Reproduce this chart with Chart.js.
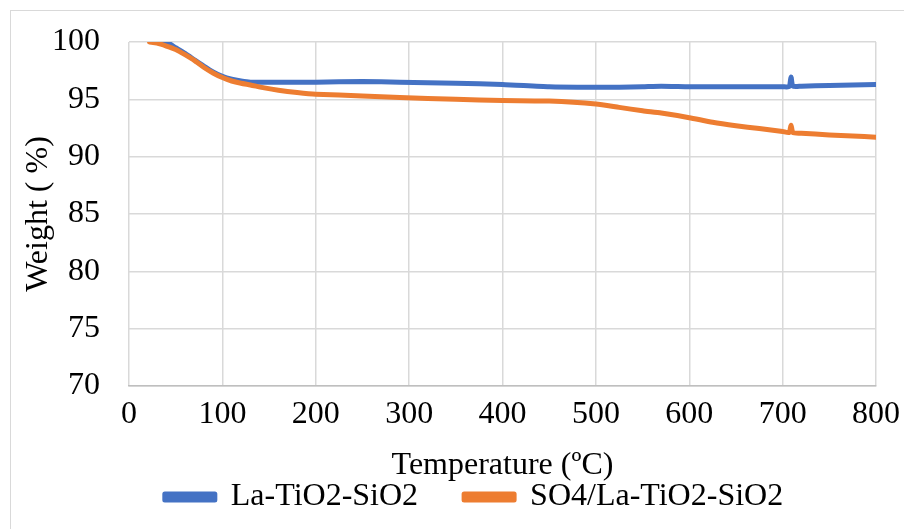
<!DOCTYPE html>
<html>
<head>
<meta charset="utf-8">
<script src="https://cdn.jsdelivr.net/npm/chart.js@4.4.1/dist/chart.umd.min.js"></script>
<style>
  html, body { margin: 0; padding: 0; background: #fff; }
  #wrap { position: relative; width: 904px; height: 529px; overflow: hidden; }
  #frame { position: absolute; left: 10px; top: 10px; width: 1000px; height: 600px; border: 1px solid #d9d9d9; box-sizing: border-box; }
  canvas { position: absolute; left: 0; top: 0; }
</style>
</head>
<body>
<div id="wrap">
  <div id="frame"></div>
  <canvas id="grafico" width="904" height="529"></canvas>
</div>
<script>
// temperaturas (ºC) y peso (%)
const temperaturas = [22, 30, 40, 50, 60, 70, 80, 90, 100, 110, 120, 130, 145, 160, 180, 200, 250, 290, 350, 400, 450, 500, 525, 550, 570, 600, 625, 650, 675, 700, 707, 709, 711, 720, 750, 775, 800];
const laTiSi = [null, 100, 100, 99.5, 99.0, 98.45, 97.9, 97.4, 97.0, 96.75, 96.6, 96.5, 96.5, 96.5, 96.5, 96.5, 96.55, 96.5, 96.4, 96.3, 96.1, 96.05, 96.05, 96.1, 96.15, 96.1, 96.1, 96.1, 96.1, 96.1, 96.1, 96.95, 96.15, 96.15, 96.2, 96.25, 96.3];
const so4LaTiSi = [100, 99.9, 99.65, 99.35, 98.9, 98.4, 97.8, 97.3, 96.9, 96.6, 96.4, 96.25, 96.0, 95.8, 95.6, 95.45, 95.3, 95.17, 95.0, 94.9, 94.85, 94.6, 94.3, 94.0, 93.8, 93.4, 93.0, 92.7, 92.45, 92.2, 92.1, 92.75, 92.1, 92.05, 91.9, 91.8, 91.7];
const ticksX = [0, 100, 200, 300, 400, 500, 600, 700, 800];
const ticksY = [70, 75, 80, 85, 90, 95, 100];

const fuente = "'Liberation Serif', 'Times New Roman', serif";
const toPts = (vals) => temperaturas.map((t, i) => ({ x: t, y: vals[i] }));

// mueve la leyenda un poco a la derecha, como en el original
const ajusteLeyenda = {
  id: 'ajusteLeyenda',
  afterLayout(chart) {
    chart.legend.left += 36;
    chart.legend.right += 36;
  }
};

new Chart(document.getElementById('grafico').getContext('2d'), {
  type: 'line',
  data: {
    datasets: [
      {
        label: 'La-TiO2-SiO2',
        data: toPts(laTiSi),
        borderColor: '#4472C4',
        backgroundColor: '#4472C4',
        borderWidth: 5,
        pointRadius: 0,
        tension: 0.2,
        borderCapStyle: 'round',
        borderJoinStyle: 'round',
        order: 1
      },
      {
        label: 'SO4/La-TiO2-SiO2',
        data: toPts(so4LaTiSi),
        borderColor: '#ED7D31',
        backgroundColor: '#ED7D31',
        borderWidth: 5,
        pointRadius: 0,
        tension: 0.2,
        borderCapStyle: 'round',
        borderJoinStyle: 'round',
        order: 0
      }
    ]
  },
  plugins: [ajusteLeyenda],
  options: {
    responsive: false,
    animation: false,
    layout: { padding: { top: 42, right: 28, bottom: 6, left: 0 } },
    plugins: {
      tooltip: { enabled: false },
      legend: {
        position: 'bottom',
        labels: {
          color: '#000',
          font: { family: fuente, size: 32 },
          boxWidth: 50,
          boxHeight: 6,
          padding: 46,
          sort: (a, b) => a.datasetIndex - b.datasetIndex
        }
      }
    },
    scales: {
      x: {
        type: 'linear',
        min: 0,
        max: 800,
        afterBuildTicks: (s) => { s.ticks = ticksX.map(v => ({ value: v })); },
        afterFit: (s) => { s.height = 49; s.paddingLeft = 0; s.paddingRight = 0; },
        grid: { color: '#d9d9d9', lineWidth: 1.5, drawTicks: false },
        border: { color: '#bfbfbf', width: 1.5 },
        ticks: { color: '#000', font: { family: fuente, size: 32 }, padding: 9, maxRotation: 0 },
        title: { display: true, text: 'Temperature (ºC)', color: '#000', font: { family: fuente, size: 32 }, padding: { top: 0, bottom: -50 } }
      },
      y: {
        min: 70,
        max: 100,
        afterBuildTicks: (s) => { s.ticks = ticksY.map(v => ({ value: v })); },
        afterFit: (s) => { s.width = 129; s.paddingTop = 0; s.paddingBottom = 0; },
        grid: { color: '#d9d9d9', lineWidth: 1.5, drawTicks: false },
        border: { display: false },
        ticks: { color: '#000', font: { family: fuente, size: 32 }, padding: 29 },
        title: { display: true, text: 'Weight ( %)', color: '#000', font: { family: fuente, size: 32 }, padding: { top: 19, bottom: 0 } }
      }
    }
  }
});
</script>
</body>
</html>
